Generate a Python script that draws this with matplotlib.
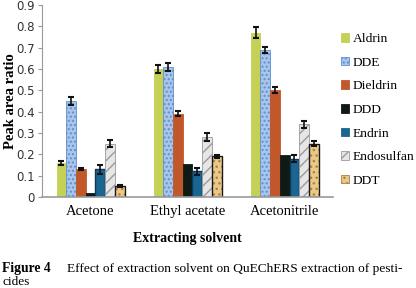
import matplotlib.pyplot as plt
import numpy as np

solvents = ["Acetone", "Ethyl acetate", "Acetonitrile"]
pesticides = ["Aldrin", "DDE", "Dieldrin", "DDD", "Endrin", "Endosulfan", "DDT"]

aldrin = [0.16, 0.60, 0.77]
dde = [0.45, 0.61, 0.69]
dieldrin = [0.13, 0.39, 0.50]
ddd = [0.02, 0.155, 0.195]
endrin = [0.13, 0.12, 0.18]
endosulfan = [0.25, 0.28, 0.34]
ddt = [0.05, 0.19, 0.25]

aldrin_err = [0.008, 0.02, 0.025]
dde_err = [0.02, 0.02, 0.015]
dieldrin_err = [0.005, 0.012, 0.015]
ddd_err = [0, 0, 0]
endrin_err = [0.02, 0.018, 0.018]
endosulfan_err = [0.018, 0.02, 0.018]
ddt_err = [0.005, 0.005, 0.01]

values = [aldrin, dde, dieldrin, ddd, endrin, endosulfan, ddt]
errors = [aldrin_err, dde_err, dieldrin_err, ddd_err, endrin_err, endosulfan_err, ddt_err]
colors = ["#c4d155", "#a9c6ea", "#c0582a", "#0f1a17", "#1a6592", "#e6e6e6", "#e8c98a"]
hatch_col = ["#c4d155", "#5f8fd0", "#c0582a", "#0f1a17", "#1a6592", "#9a9a9a", "#b08040"]
outline = [None, None, None, None, "#0c3a58", None, "#1a1a1a"]
hatches = [None, "....", None, None, None, "///", "..."]

serif = "Liberation Serif"

fig = plt.figure(figsize=(4.16, 2.88), dpi=100)
ax = fig.add_axes([0.101, 0.316, 0.70, 0.667])

x = np.arange(len(solvents))
w = 0.1
for i, name in enumerate(pesticides):
    pos = x + (i - 3) * w
    ax.bar(pos, values[i], w, color=colors[i], edgecolor=hatch_col[i], linewidth=0.6,
           hatch=hatches[i], label=name)
    if outline[i]:
        ax.bar(pos, values[i], w, fill=False, edgecolor=outline[i], linewidth=1.0)
    errs = errors[i]
    if any(errs):
        ax.errorbar(pos, values[i], yerr=errs, fmt="none", ecolor="#111111",
                    elinewidth=1.2, capsize=2.5, capthick=1.5)

ax.set_xlim(-0.5, 2.5)
ax.set_ylim(0, 0.9)
ax.set_yticks(np.arange(0, 0.91, 0.1))
ax.set_yticklabels(["0"] + [f"{v:.1f}" for v in np.arange(0.1, 0.91, 0.1)],
                   fontsize=8.5, color="#333333")
ax.set_xticks(x)
ax.set_xticklabels(solvents, fontsize=10.5, family=serif)
ax.tick_params(axis="x", length=0, pad=6)
ax.tick_params(axis="y", length=3, color="#999999", pad=2)
for s in ["top", "right"]:
    ax.spines[s].set_visible(False)
ax.spines["left"].set_color("#999999")
ax.spines["bottom"].set_color("#999999")
ax.spines["bottom"].set_linewidth(1.2)

ax.set_ylabel("Peak area ratio", fontsize=10.5, family=serif, fontweight="bold")
ax.yaxis.set_label_coords(-0.086, 0.5)
ax.set_xlabel("Extracting solvent", fontsize=10, family=serif, fontweight="bold", labelpad=10)

ax.legend(loc="upper left", bbox_to_anchor=(1.0, 0.895), frameon=False,
          prop={"family": serif, "size": 9.7}, handlelength=0.6, handleheight=0.6,
          handletextpad=0.25, labelspacing=0.86, borderaxespad=0.2)

fig.text(0.005, 0.056, "Figure 4", fontsize=9.8, family=serif, fontweight="bold", va="baseline")
fig.text(0.161, 0.056, "Effect of extraction solvent on QuEChERS extraction of pesti-",
         fontsize=9.6, family=serif, va="baseline")
fig.text(0.005, 0.011, "cides", fontsize=9.6, family=serif, va="baseline")

fig.savefig("out.png", dpi=100)
